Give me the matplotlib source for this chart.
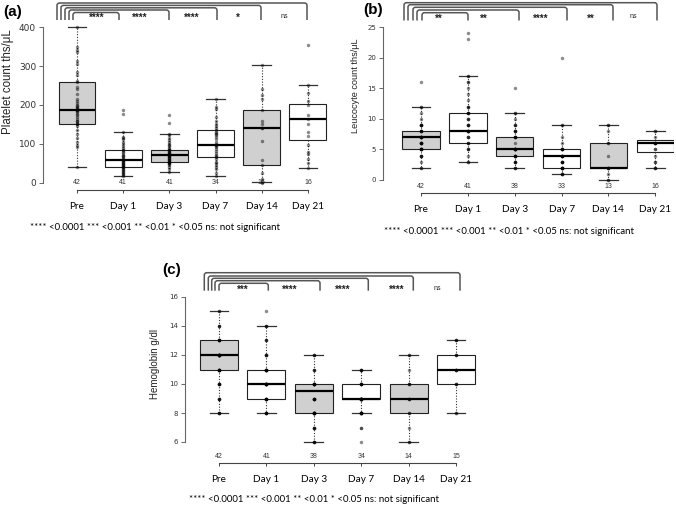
import matplotlib
matplotlib.use('Agg')
import matplotlib.pyplot as plt
from matplotlib.path import Path
from matplotlib.patches import PathPatch
import matplotlib.transforms as mtrans

W, H = 676, 509
fig = plt.figure(figsize=(W / 100, H / 100), dpi=100)

categories = ['Pre', 'Day 1', 'Day 3', 'Day 7', 'Day 14', 'Day 21']
box_fill = ['#d0d0d0', 'white', '#d0d0d0', 'white', '#d0d0d0', 'white']
footnote = '**** <0.0001 *** <0.001 ** <0.01 * <0.05 ns: not significant'

# ---------------- Panel (a): platelets ----------------
plt_q1 = [150, 42, 53, 67, 45, 110]
plt_med = [187, 58, 72, 98, 142, 165]
plt_q3 = [258, 84, 85, 136, 188, 202]
plt_lo = [40, 17, 28, 18, 2, 38]
plt_hi = [400, 132, 125, 215, 302, 252]
plt_n = [42, 41, 41, 34, 16, 16]
plt_sig = ['****', '****', '****', '*', 'ns']
plt_pre = [400, 348, 342, 335, 312, 305, 285, 278, 262, 258, 245, 240, 228, 215,
           210, 205, 200, 198, 195, 192, 190, 188, 186, 185, 182, 178, 175, 170,
           165, 160, 158, 155, 152, 150, 145, 135, 125, 115, 105, 98, 92, 40]
plt_d1 = [187, 177, 132, 118, 115, 112, 105, 100, 95, 90, 85, 84, 80, 76, 72, 70,
          68, 65, 62, 60, 58, 58, 56, 55, 52, 50, 48, 46, 45, 44, 42, 40, 38, 35,
          32, 30, 28, 25, 22, 20, 17]
plt_d3 = [175, 155, 125, 122, 115, 110, 105, 100, 98, 95, 90, 88, 85, 84, 82, 80,
          78, 76, 75, 74, 72, 72, 70, 68, 67, 65, 63, 62, 60, 58, 56, 55, 54, 53,
          52, 50, 48, 45, 40, 35, 28]
plt_d7 = [215, 195, 190, 170, 160, 150, 145, 140, 136, 132, 128, 125, 122, 118,
          112, 105, 100, 98, 95, 92, 88, 82, 78, 72, 70, 67, 62, 55, 50, 45, 40,
          35, 25, 18]
plt_d14 = [302, 240, 225, 215, 188, 160, 150, 142, 140, 107, 60, 45, 25, 10, 2, 0]
plt_d21 = [355, 252, 232, 210, 200, 175, 165, 150, 130, 120, 98, 80, 75, 62, 50, 38]

# ---------------- Panel (b): leucocytes ----------------
wbc_q1 = [5, 6, 4, 2, 2, 4.5]
wbc_med = [7, 8, 5, 4, 2, 6]
wbc_q3 = [8, 11, 7, 5, 6, 6.5]
wbc_lo = [2, 3, 2, 1, 0, 2]
wbc_hi = [12, 17, 11, 9, 9, 8]
wbc_n = [42, 41, 38, 33, 13, 16]
wbc_sig = ['**', '**', '****', '**', 'ns']
wbc_pre = [16, 12, 12, 11, 10, 9, 9, 9, 9, 9, 8, 8, 8, 8, 8, 7, 7, 7, 7, 7, 7, 7,
           6, 6, 6, 6, 6, 6, 5, 5, 5, 5, 5, 5, 5, 4, 4, 4, 4, 3, 2, 2]
wbc_d1 = [24, 23, 17, 17, 16, 16, 15, 14, 13, 12, 12, 12, 11, 11, 11, 11, 10, 10,
          10, 9, 9, 9, 9, 8, 8, 8, 8, 8, 8, 7, 7, 7, 6, 6, 6, 5, 5, 5, 4, 3, 3]
wbc_d3 = [15, 11, 11, 10, 9, 9, 9, 8, 8, 8, 8, 7, 7, 7, 7, 7, 6, 5, 5, 5, 5, 5, 5,
          5, 5, 4, 4, 4, 4, 4, 4, 3, 3, 3, 3, 2, 2, 2]
wbc_d7 = [20, 9, 9, 7, 6, 5, 5, 5, 5, 5, 5, 4, 4, 4, 4, 4, 4, 3, 3, 3, 3, 3, 2, 2,
          2, 2, 2, 2, 2, 1, 1, 1, 1]
wbc_d14 = [9, 9, 8, 6, 6, 4, 2, 2, 2, 2, 1, 0, 0]
wbc_d21 = [8, 8, 7, 6, 6, 6, 6, 6, 5, 5, 4, 3, 3, 2, 2, 2]

# ---------------- Panel (c): hemoglobin ----------------
hb_q1 = [11, 9, 8, 9, 8, 10]
hb_med = [12, 10, 9.5, 9, 9, 11]
hb_q3 = [13, 11, 10, 10, 10, 12]
hb_lo = [8, 8, 6, 8, 6, 8]
hb_hi = [15, 14, 12, 11, 12, 13]
hb_n = [42, 41, 38, 34, 14, 15]
hb_sig = ['***', '****', '****', '****', 'ns']
hb_pre = [15, 15, 14, 14, 14, 13, 13, 13, 13, 13, 13, 12, 12, 12, 12, 12, 12, 12,
          12, 12, 12, 11, 11, 11, 11, 11, 11, 11, 11, 10, 10, 10, 10, 10, 9, 9, 9,
          9, 8, 8, 8, 8]
hb_d1 = [15, 14, 14, 14, 13, 13, 13, 12, 12, 12, 12, 11, 11, 11, 11, 11, 11, 11,
         11, 10, 10, 10, 10, 10, 10, 10, 10, 10, 10, 9, 9, 9, 9, 9, 9, 9, 8, 8, 8,
         8, 8]
hb_d3 = [12, 12, 12, 11, 11, 11, 10, 10, 10, 10, 10, 10, 10, 10, 9, 9, 9, 9, 9, 9,
         8, 8, 8, 8, 8, 8, 8, 8, 8, 8, 7, 7, 7, 7, 6, 6, 6, 6]
hb_d7 = [11, 11, 11, 11, 10, 10, 10, 10, 10, 10, 9, 9, 9, 9, 9, 9, 9, 9, 9, 9, 9,
         9, 9, 8, 8, 8, 8, 8, 8, 8, 8, 7, 7, 6]
hb_d14 = [12, 12, 11, 10, 10, 10, 9, 9, 9, 8, 8, 7, 6, 6]
hb_d21 = [13, 13, 13, 12, 12, 12, 11, 11, 11, 11, 10, 10, 10, 8, 8]


def fx(px):
    return px / W


def fy(py):
    return 1 - py / H


def draw_panel(rect, xlim, ylim, yticks, q1, med, q3, lo, hi, pts, nvals, sig,
               ylabel, ylabel_xy, tag, tag_xy, brk, axis_py, n_py, cat_py,
               foot_xy, tick_fs, n_fs, ylab_fs):
    L, T, R, B = rect
    ax = fig.add_axes([fx(L), fy(B), fx(R) - fx(L), (B - T) / H])
    pos = list(range(1, 7))
    stats = [dict(q1=q1[i], med=med[i], q3=q3[i], whislo=lo[i], whishi=hi[i],
                  fliers=[]) for i in range(6)]
    bp = ax.bxp(stats, positions=pos, widths=0.8, capwidths=0.4,
                patch_artist=True, showfliers=False,
                boxprops=dict(edgecolor='#222222', linewidth=0.8),
                medianprops=dict(color='black', linewidth=1.6),
                whiskerprops=dict(color='#333333', linewidth=0.8,
                                  linestyle=(0, (1, 1.5))),
                capprops=dict(color='#333333', linewidth=0.9))
    for patch, c in zip(bp['boxes'], box_fill):
        patch.set_facecolor(c)
    for i, vals in enumerate(pts):
        ax.plot([pos[i]] * len(vals), vals, 'o', ms=2.5, color='black',
                alpha=0.45, mec='none', zorder=4)
    ax.set_xlim(*xlim)
    ax.set_ylim(*ylim)
    for s in ['top', 'right']:
        ax.spines[s].set_visible(False)
    ax.spines['left'].set_bounds(yticks[0], yticks[-1])
    ax.spines['left'].set_color('#666666')
    ax.spines['left'].set_linewidth(0.8)
    ax.spines['bottom'].set_bounds(1, 6)
    ax.spines['bottom'].set_color('#444444')
    ax.spines['bottom'].set_linewidth(0.8)
    ax.spines['bottom'].set_position(('outward', (axis_py - B) * 0.72))
    ax.set_yticks(yticks)
    ax.set_yticklabels([str(t) for t in yticks])
    ax.tick_params(axis='y', length=3, width=0.7, color='#666666', pad=2,
                   labelsize=tick_fs, labelcolor='#333333')
    ax.set_xticks(pos)
    ax.set_xticklabels([])
    ax.tick_params(axis='x', length=2.5, width=0.7, color='#444444')
    ax.patch.set_alpha(0)
    tr = mtrans.blended_transform_factory(ax.transData, fig.transFigure)
    for i in range(6):
        ax.text(pos[i], fy(n_py), str(nvals[i]), transform=tr, ha='center',
                va='center', fontsize=n_fs, color='#333333', zorder=3,
                family='Liberation Sans')
        ax.text(pos[i], fy(cat_py), categories[i], transform=tr, ha='center',
                va='center', fontsize=7.2, color='black', family='Lato')
    fig.text(fx(foot_xy[0]), fy(foot_xy[1]), footnote, ha='center',
             va='center', fontsize=6.9, family='Lato')
    fig.text(fx(ylabel_xy[0]), fy(ylabel_xy[1]), ylabel, rotation=90,
             ha='center', va='center', fontsize=ylab_fs, color='#222222',
             family='Liberation Sans')
    fig.text(fx(tag_xy[0]), fy(tag_xy[1]), tag, ha='center', va='center',
             fontsize=11, fontweight='bold', family='Liberation Sans')
    # significance brackets (decoration, pixel geometry)
    bottom, tops, lefts, rights, lab_xs, lab_y = brk
    r = 2.5
    for k in range(5):
        x0, x1, yt = lefts[k], rights[k], tops[k]
        verts = [(x0, bottom), (x0, yt + r), (x0, yt), (x0 + r, yt),
                 (x1 - r, yt), (x1, yt), (x1, yt + r), (x1, bottom)]
        codes = [Path.MOVETO, Path.LINETO, Path.CURVE3, Path.CURVE3,
                 Path.LINETO, Path.CURVE3, Path.CURVE3, Path.LINETO]
        verts = [(fx(a), fy(b)) for a, b in verts]
        fig.add_artist(PathPatch(Path(verts, codes), fill=False,
                                 edgecolor='#555555', linewidth=1.1,
                                 transform=fig.transFigure))
        fs = 5 if sig[k] == 'ns' else 7
        dy = 0 if sig[k] == 'ns' else 1.5
        fig.text(fx(lab_xs[k]), fy(lab_y + dy), sig[k], ha='center',
                 va='center', fontsize=fs, fontweight='bold' if sig[k] != 'ns' else 'normal',
                 color='#222222', family='Liberation Sans')
    return ax


# Panel (a)
draw_panel((43, 20.8, 331, 189.2), (0.264, 6.5), (-16, 416), [0, 100, 200, 300, 400],
           plt_q1, plt_med, plt_q3, plt_lo, plt_hi,
           [plt_pre, plt_d1, plt_d3, plt_d7, plt_d14, plt_d21], plt_n, plt_sig,
           'Platelet count ths/\u03bcL', (8, 82), '(a)', (13, 12),
           (20, [12.5, 10, 7.8, 5.4, 3], [73, 69, 65, 61, 57],
            [119, 169, 217, 261, 307], [97, 140, 192, 238, 284], 16.5),
           190, 183, 207, (155, 227), 6.5, 5, 8.3)

# Panel (b)
draw_panel((383, 20.9, 674, 186.1), (0.188, 6.4), (-1, 26), [0, 5, 10, 15, 20, 25],
           wbc_q1, wbc_med, wbc_q3, wbc_lo, wbc_hi,
           [wbc_pre, wbc_d1, wbc_d3, wbc_d7, wbc_d14, wbc_d21], wbc_n, wbc_sig,
           'Leucocyte count ths/\u03bcL', (355, 86), '(b)', (373, 10),
           (20.5, [12.7, 10, 7.3, 4.7, 2.7], [422, 417, 413, 408, 404],
            [468, 519, 567, 613, 657], [439, 484, 541, 591, 633], 17),
           193, 186.5, 209, (509, 232), 5, 5, 6.6)

# Panel (c)
draw_panel((185, 291.2, 479.7, 447.8), (0.283, 6.5), (5.6, 16.4), [6, 8, 10, 12, 14, 16],
           hb_q1, hb_med, hb_q3, hb_lo, hb_hi,
           [hb_pre, hb_d1, hb_d3, hb_d7, hb_d14, hb_d21], hb_n, hb_sig,
           'Hemoglobin g/dl', (155, 364), '(c)', (172, 270),
           (290.7, [283.3, 280.7, 278.3, 276, 272.7], [219, 215, 211.7, 208.3, 204.3],
            [268.3, 320, 368.3, 413.3, 460], [243, 290, 343, 397, 437], 288),
           463, 457, 480, (314, 500), 5, 5, 7)

fig.savefig('out.png', dpi=100)
